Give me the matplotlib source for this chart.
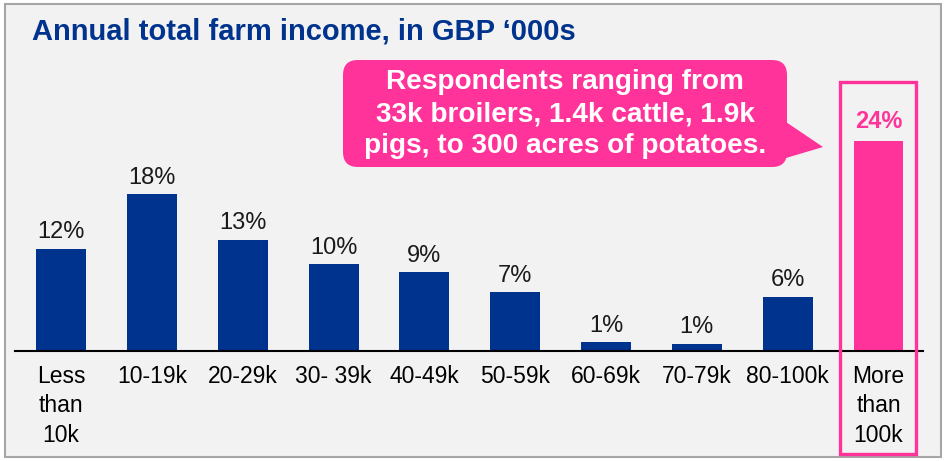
import matplotlib
matplotlib.use("Agg")
import matplotlib.pyplot as plt
from matplotlib.patches import Rectangle, FancyBboxPatch, Polygon
from matplotlib.transforms import Affine2D

# data (share of respondents, %)
categories = ["Less\nthan\n10k", "10-19k", "20-29k", "30- 39k", "40-49k",
              "50-59k", "60-69k", "70-79k", "80-100k", "More\nthan\n100k"]
shares = [11.7, 17.9, 12.7, 9.9, 9.0, 6.7, 1.0, 0.8, 6.2, 24.0]
title = "Annual total farm income, in GBP \u2018000s"
callout = "Respondents ranging from\n33k broilers, 1.4k cattle, 1.9k\npigs, to 300 acres of potatoes."

navy = "#00338D"
pink = "#FF3399"

plt.rcParams["font.family"] = ["Liberation Sans", "DejaVu Sans"]

W, H = 944, 461
fig = plt.figure(figsize=(W / 100, H / 100), dpi=100, facecolor="white")
# pixel coordinates, origin top-left
px = Affine2D().scale(1 / W, -1 / H).translate(0, 1) + fig.transFigure

bg = Rectangle((5, 4), 936, 453, transform=px, facecolor="#F2F2F2",
               edgecolor="#A6A6A6", lw=1.5, zorder=-1)
fig.add_artist(bg)

fig.text(32, 32, title, transform=px, fontsize=21, fontweight="bold",
         color=navy, va="center", ha="left")

# main chart
base_y, top_y, left_x, right_x = 351, 60, 15, 923
ppu = 8.75  # pixels per percent
ax = fig.add_axes([left_x / W, (H - base_y) / H, (right_x - left_x) / W,
                   (base_y - top_y) / H])
ax.patch.set_visible(False)
x = list(range(len(categories)))
colors = [navy] * (len(categories) - 1) + [pink]
ax.bar(x, shares, width=0.55, color=colors)
ax.set_xlim(-0.507, 9.49)
ax.set_ylim(0, (base_y - top_y) / ppu)
for s in ["top", "right", "left"]:
    ax.spines[s].set_visible(False)
ax.spines["bottom"].set_color("black")
ax.spines["bottom"].set_linewidth(1.5)
ax.set_yticks([])
ax.set_xticks(x)
ax.set_xticklabels(categories, fontsize=16.5, linespacing=1.36)
ax.tick_params(axis="x", length=0, pad=10)

for i, v in enumerate(shares):
    last = i == len(shares) - 1
    ax.annotate(f"{round(v)}%", (i, v), xytext=(0, 6 if last else 4),
                textcoords="offset points", ha="center", va="bottom",
                fontsize=17, color=pink if last else "#1A1A1A",
                fontweight="bold" if last else "normal")

# highlight frame around the last category
fig.add_artist(Rectangle((839.5, 82), 76, 372, transform=px, fill=False,
                         edgecolor=pink, lw=2.4, zorder=3))

# callout bubble
box = FancyBboxPatch((343, 60), 444, 107, boxstyle="round,pad=0,rounding_size=15",
                     transform=px, facecolor=pink, edgecolor="none", zorder=3)
fig.add_artist(box)
fig.add_artist(Polygon([(786, 122), (823, 147), (786, 158)], closed=True,
                       transform=px, facecolor=pink, edgecolor="none", zorder=3))
fig.text(565, 114, callout, transform=px, fontsize=20.2, fontweight="bold",
         color="white", ha="center", va="center", linespacing=1.28, zorder=4)

fig.savefig("out.png", dpi=100, facecolor="white")
